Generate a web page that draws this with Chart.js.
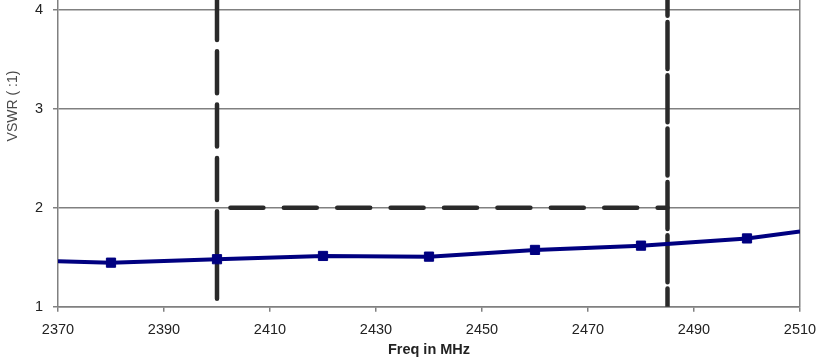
<!DOCTYPE html>
<html>
<head>
<meta charset="utf-8">
<script src="https://cdn.jsdelivr.net/npm/chart.js@4"></script>
<style>
  html, body { margin: 0; padding: 0; background: #fff; }
  #wrap { width: 817px; height: 361px; }
</style>
</head>
<body>
<div id="wrap"><canvas id="c" width="817" height="361"></canvas></div>
<script>
// Measured VSWR across the band (first/last entries are where the trace meets the frame)
const FREQ_MHZ = [2370, 2380, 2400, 2420, 2440, 2460, 2480, 2500, 2510];
const VSWR     = [1.46, 1.445, 1.48, 1.513, 1.506, 1.574, 1.617, 1.69, 1.76];

// Band edges and the 2:1 limit
const BAND_LOW_X  = [2400, 2400];
const BAND_LOW_Y  = [4.1, 1.08];
const BAND_HIGH_X = [2485, 2485];
const BAND_HIGH_Y = [4.1, 1.0];
const LIMIT_X     = [2400, 2485];
const LIMIT_Y     = [2, 2];

// Axes
const X_TICKS = [2370, 2390, 2410, 2430, 2450, 2470, 2490, 2510];
const Y_TICKS = [1, 2, 3, 4];
const X_RANGE = [2370, 2510];
const Y_RANGE = [1, 4.1];
const X_TITLE = 'Freq in MHz';
const Y_TITLE = 'VSWR ( :1)';

const FONT = '"Liberation Sans", Arial, Helvetica, sans-serif';
const GRID = '#808080';
const NAVY = '#000080';
const DASH = '#2a2a2a';

const pts = (xs, ys) => xs.map((x, i) => ({ x, y: ys[i] }));

// Rotated y-axis caption placed toward the top of the left margin
const yCaption = {
  id: 'yCaption',
  afterDraw(chart) {
    const ctx = chart.ctx;
    ctx.save();
    ctx.translate(13, 106);
    ctx.rotate(-Math.PI / 2);
    ctx.font = '14px ' + FONT;
    ctx.fillStyle = '#4a4a4a';
    ctx.textAlign = 'center';
    ctx.textBaseline = 'middle';
    ctx.fillText(Y_TITLE, 0, 0);
    ctx.restore();
  }
};

new Chart(document.getElementById('c'), {
  type: 'line',
  data: {
    datasets: [
      {
        label: 'VSWR',
        data: pts(FREQ_MHZ, VSWR),
        borderColor: NAVY,
        backgroundColor: NAVY,
        borderWidth: 4,
        tension: 0,
        pointStyle: 'rect',
        pointRadius: (c) => (c.dataIndex === 0 || c.dataIndex === FREQ_MHZ.length - 1) ? 0 : 6.5,
        pointBorderWidth: 1,
        pointBackgroundColor: NAVY,
        pointBorderColor: NAVY,
        order: 0
      },
      {
        label: 'Band low',
        data: pts(BAND_LOW_X, BAND_LOW_Y),
        borderColor: DASH,
        borderWidth: 4.5,
        borderDash: [42, 11.3],
        borderDashOffset: 2,
        borderCapStyle: 'round',
        pointRadius: 0,
        order: 1
      },
      {
        label: 'Band high',
        data: pts(BAND_HIGH_X, BAND_HIGH_Y),
        borderColor: DASH,
        borderWidth: 4.5,
        borderDash: [47, 6.3],
        borderDashOffset: 31.3,
        borderCapStyle: 'round',
        pointRadius: 0,
        order: 1
      },
      {
        label: 'Limit',
        data: pts(LIMIT_X, LIMIT_Y),
        borderColor: DASH,
        borderWidth: 4.5,
        borderDash: [33, 20.4],
        borderDashOffset: 40,
        borderCapStyle: 'round',
        pointRadius: 0,
        order: 1
      }
    ]
  },
  options: {
    responsive: false,
    animation: false,
    layout: { padding: 0 },
    plugins: {
      legend: { display: false },
      tooltip: { enabled: false }
    },
    scales: {
      x: {
        type: 'linear',
        min: X_RANGE[0],
        max: X_RANGE[1],
        afterBuildTicks: (s) => { s.ticks = X_TICKS.map(v => ({ value: v })); },
        afterFit: (s) => { s.height = 54.3; s.paddingRight = 17; },
        ticks: {
          padding: 10,
          color: '#222',
          font: { family: FONT, size: 14.5 },
          maxRotation: 0,
          callback: (v) => String(v)
        },
        grid: {
          color: (c) => (c.tick && c.tick.value === X_RANGE[1]) ? GRID : 'rgba(0,0,0,0)',
          tickColor: GRID,
          tickLength: 5,
          lineWidth: 1.5
        },
        border: { display: true, color: GRID, width: 1.5 },
        title: {
          display: true,
          text: X_TITLE,
          color: '#222',
          font: { family: FONT, size: 14.5, weight: 'bold' },
          padding: { top: 0, bottom: 2 }
        }
      },
      y: {
        type: 'linear',
        min: Y_RANGE[0],
        max: Y_RANGE[1],
        afterBuildTicks: (s) => { s.ticks = Y_TICKS.map(v => ({ value: v })); },
        afterFit: (s) => { s.width = 58; s.paddingTop = 0; s.paddingBottom = 0; },
        ticks: {
          padding: 10,
          color: '#222',
          font: { family: FONT, size: 14.5 },
          callback: (v) => String(v)
        },
        grid: {
          color: GRID,
          tickColor: GRID,
          tickLength: 5,
          lineWidth: 1.5
        },
        border: { display: true, color: GRID, width: 1.5 }
      }
    }
  },
  plugins: [yCaption]
});
</script>
</body>
</html>
